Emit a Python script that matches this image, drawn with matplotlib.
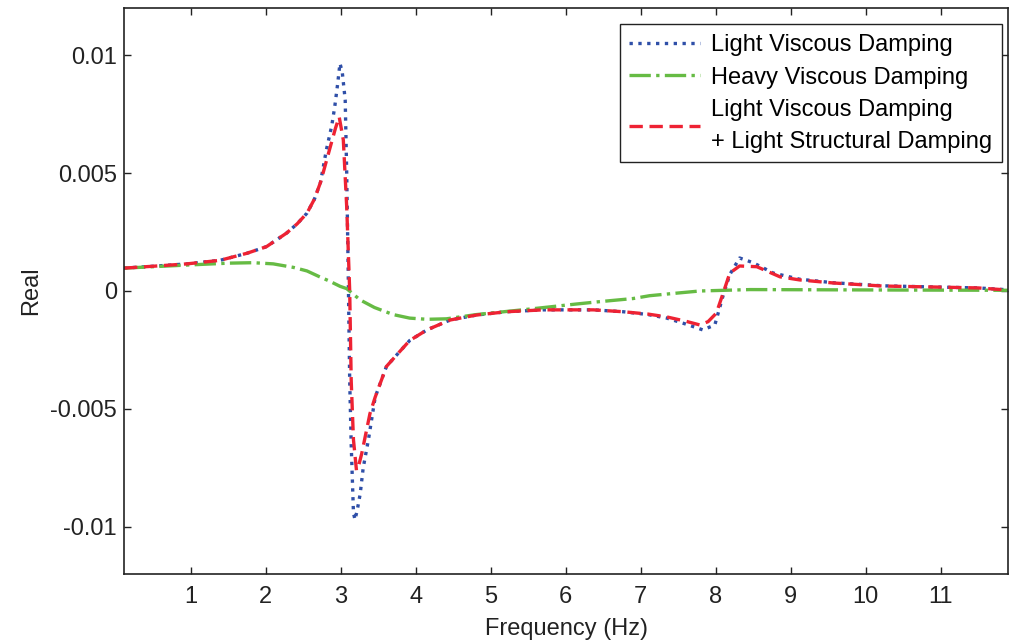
import matplotlib
matplotlib.use("Agg")
import matplotlib.pyplot as plt

plt.rcParams["font.family"] = ["Liberation Sans", "DejaVu Sans"]

# Light viscous damping (real part, x1e-3)
light_f = [0.11, 0.5, 0.95, 1.39, 1.75, 2.01, 2.28, 2.42, 2.55, 2.65, 2.73, 2.81, 2.88, 2.92, 2.96, 2.99,
           3.02, 3.06, 3.08, 3.10, 3.12, 3.14, 3.17, 3.19, 3.22, 3.26, 3.30, 3.37, 3.42, 3.46,
           3.61, 3.75, 3.92, 4.15, 4.46, 4.81, 5.21, 5.7, 6.37, 6.77, 7.1, 7.35, 7.6, 7.83,
           7.99, 8.1, 8.19, 8.32, 8.5, 8.77, 9.12, 9.57, 10.23, 10.9, 11.5, 11.9]
light_re = [0.97, 1.05, 1.15, 1.3, 1.6, 1.88, 2.46, 2.85, 3.3, 3.9, 4.6, 6.0, 7.0, 7.8, 8.8, 9.65,
            9.3, 8.1, 5.0, 0.8, -3.8, -6.5, -9.4, -9.7, -9.3, -8.6, -7.5, -6.3, -5.3, -4.5,
            -3.2, -2.7, -2.1, -1.65, -1.23, -1.02, -0.88, -0.8, -0.8, -0.88, -1.0, -1.15, -1.4, -1.65,
            -1.44, -0.2, 0.7, 1.4, 1.2, 0.76, 0.5, 0.35, 0.22, 0.17, 0.13, 0.05]

# Heavy viscous damping
heavy_f = [0.11, 0.95, 1.5, 1.83, 2.1, 2.37, 2.55, 2.72, 2.85, 2.99, 3.08, 3.26, 3.45, 3.70,
           3.92, 4.15, 4.41, 4.81, 5.48, 6.15, 6.46, 6.9, 7.12, 7.45, 7.79, 8.46, 9.5, 10.5, 11.9]
heavy_re = [0.97, 1.1, 1.18, 1.2, 1.15, 1.0, 0.85, 0.6, 0.42, 0.2, 0.1, -0.38, -0.7, -1.0,
            -1.15, -1.2, -1.18, -1.0, -0.78, -0.55, -0.45, -0.32, -0.2, -0.1, 0.0, 0.06, 0.05, 0.04, 0.03]

# Light viscous + light structural damping
struct_f = [0.11, 0.5, 0.95, 1.39, 1.75, 2.01, 2.28, 2.42, 2.55, 2.65, 2.73, 2.86, 2.93, 2.98, 3.035, 3.08,
            3.12, 3.14, 3.17, 3.21, 3.24, 3.28, 3.39, 3.46, 3.61, 3.75, 3.92, 4.15, 4.46, 4.81,
            5.21, 5.7, 6.37, 6.77, 7.1, 7.35, 7.6, 7.79, 7.9, 8.01, 8.1, 8.19, 8.32, 8.55,
            8.86, 9.12, 9.57, 10.23, 10.9, 11.5, 11.9]
struct_re = [0.97, 1.05, 1.15, 1.3, 1.6, 1.88, 2.46, 2.85, 3.3, 3.9, 4.6, 6.1, 6.9, 7.38, 6.4, 3.57,
             0.0, -3.8, -6.3, -7.6, -7.4, -6.9, -5.2, -4.5, -3.2, -2.7, -2.1, -1.65, -1.23, -1.02,
             -0.88, -0.8, -0.8, -0.88, -0.98, -1.1, -1.28, -1.44, -1.3, -0.94, -0.1, 0.76, 1.06, 1.03,
             0.6, 0.47, 0.34, 0.21, 0.17, 0.13, 0.04]

x_ticks = list(range(1, 12))
y_ticks = [-0.01, -0.005, 0, 0.005, 0.01]
y_labels = ["-0.01", "-0.005", "0", "0.005", "0.01"]

fig = plt.figure(figsize=(10.1, 6.44), dpi=100)
ax = fig.add_axes([0.1228, 0.1087, 0.8752, 0.8789])

ax.plot(light_f, [v * 1e-3 for v in light_re], linestyle=":", color="#2f4fa8", lw=2.4,
        label="Light Viscous Damping")
ax.plot(heavy_f, [v * 1e-3 for v in heavy_re], linestyle="-.", color="#66bb44", lw=2.4,
        label="Heavy Viscous Damping")
ax.plot(struct_f, [v * 1e-3 for v in struct_re], linestyle="--", color="#ee2233", lw=2.4,
        dashes=(4, 2), label="Light Viscous Damping\n+ Light Structural Damping")

ax.set_xlim(0.11, 11.9)
ax.set_ylim(-0.012, 0.012)
ax.set_xticks(x_ticks)
ax.set_yticks(y_ticks)
ax.set_yticklabels(y_labels)
ax.tick_params(direction="in", top=True, right=True, length=5, width=1,
               labelsize=17, colors="#222222")
ax.tick_params(axis="x", pad=9)
ax.tick_params(axis="y", pad=5)
for s in ax.spines.values():
    s.set_linewidth(1.2)
    s.set_color("#222222")

ax.set_xlabel("Frequency (Hz)", fontsize=17, color="#222222", labelpad=7)
ax.set_ylabel("Real", fontsize=17, color="#222222", labelpad=6)

leg = ax.legend(loc="upper right", bbox_to_anchor=(0.9932, 0.9717), fontsize=17,
                handlelength=3.0, fancybox=False, framealpha=1, edgecolor="#222222",
                borderpad=0.42, labelspacing=0.45, handletextpad=0.45, borderaxespad=0)
leg.get_frame().set_linewidth(1.0)
for t in leg.get_texts():
    t.set_linespacing(1.55)

fig.savefig("out.png", dpi=100)
